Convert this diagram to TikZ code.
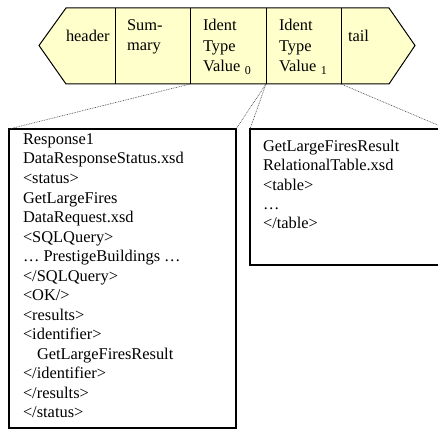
\documentclass[tikz,border=0pt]{standalone}
\usepackage{fontspec}
\setmainfont{Liberation Serif}
\definecolor{bandfill}{HTML}{FFFFCC}
\begin{document}
\begin{tikzpicture}[x=1pt,y=-1pt,
  band/.style={draw=black, line width=1pt, fill=bandfill, line join=miter},
  divider/.style={draw=black, line width=1pt},
  txt/.style={anchor=base west, inner sep=0pt, outer sep=0pt, font=\fontsize{16.4}{19}\selectfont},
  frame/.style={draw=black, line width=1.2pt, inner sep=0pt, outer sep=0pt, anchor=north west},
  link/.style={draw=black!75, line width=0.6pt, dash pattern=on 0.8pt off 0.9pt}]
\useasboundingbox (0,0) rectangle (438,430);
\clip (0,0) rectangle (438,430);
% band
\coordinate (tipL) at (39,45.5);
\coordinate (tipR) at (415,45.5);
\path[band] (tipL) -- (66,8) -- (389,8) -- (tipR) -- (389,84) -- (66,84) -- cycle;
\coordinate (d1t) at (115,8);  \coordinate (d1) at (115,84);
\coordinate (d2t) at (190,8);  \coordinate (d2) at (190,84);
\coordinate (d3t) at (266,8);  \coordinate (d3) at (266,84);
\coordinate (d4t) at (341,8);  \coordinate (d4) at (341,84);
\draw[divider] (d1t) -- (d1);
\draw[divider] (d2t) -- (d2);
\draw[divider] (d3t) -- (d3);
\draw[divider] (d4t) -- (d4);
% band texts
\node[txt] (hdr) at (66,41.5) {header};
\node[txt] (sum1) at (127,31) {Sum-};
\node[txt] (sum2) at (127,51) {mary};
\node[txt] (ia1) at (203,31) {Ident};
\node[txt] (ia2) at (203,51.5) {Type};
\node[txt] (ia3) at (203,72) {Value\hspace{4.5pt}\raisebox{-2.5pt}{\fontsize{12}{12}\selectfont 0}};
\node[txt] (ib1) at (279,31) {Ident};
\node[txt] (ib2) at (279,51.5) {Type};
\node[txt] (ib3) at (279,72) {Value\hspace{4.5pt}\raisebox{-2.5pt}{\fontsize{12}{12}\selectfont 1}};
\node[txt] (tl) at (348,41.5) {tail};
% frames
\node[frame, minimum width=227pt, minimum height=299pt] (lbox) at (9,129) {};
\node[frame, minimum width=197pt, minimum height=136pt] (rbox) at (250,129) {};
% links
\draw[link] (d2) -- (lbox.north west);
\draw[link] (d3) -- (lbox.north east);
\draw[link] (d3) -- (rbox.north west);
\draw[link] (d4) -- (rbox.north east);
% left box text
\foreach \t [count=\i] in {Response1, DataResponseStatus.xsd, <status>, GetLargeFires, DataRequest.xsd, <SQLQuery>, \ldots{} PrestigeBuildings \ldots, </SQLQuery>, <OK/>, <results>, <identifier>, \hspace{14pt}GetLargeFiresResult, </identifier>, </results>, </status>}
  \node[txt] (l\i) at ({23},{144.5+19.5*(\i-1)}) {\t};
% right box text
\foreach \t [count=\i] in {GetLargeFiresResult, RelationalTable.xsd, <table>, \ldots, </table>}
  \node[txt] (r\i) at ({263},{152+19*(\i-1)}) {\t};
\end{tikzpicture}
\end{document}
